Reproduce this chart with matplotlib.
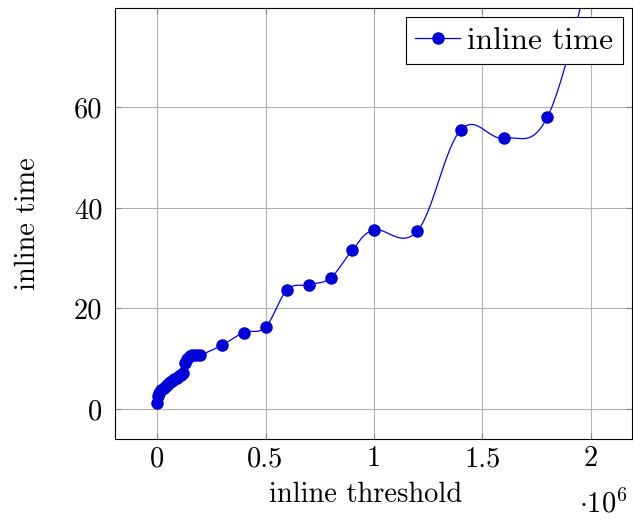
import numpy as np
import matplotlib
matplotlib.use('Agg')
import matplotlib.pyplot as plt

plt.rcParams['font.family'] = 'cmr10'
plt.rcParams['mathtext.fontset'] = 'cm'
plt.rcParams['axes.unicode_minus'] = False

# inline threshold / inline time
threshold = [0, 5000, 10000, 20000, 30000, 40000, 50000, 60000, 70000, 80000,
             90000, 100000, 110000, 120000, 130000, 140000, 150000, 160000,
             180000, 200000, 300000, 400000, 500000, 600000, 700000, 800000,
             900000, 1000000, 1200000, 1400000, 1600000, 1800000, 2000000]
inline_time = [1.2, 2.5, 3.2, 3.8, 4.2, 4.5, 4.9, 5.3, 5.6, 5.9,
               6.2, 6.5, 6.8, 7.1, 9.2, 10.0, 10.6, 10.8,
               10.7, 10.7, 12.7, 15.2, 16.3, 23.7, 24.7, 26.1,
               31.6, 35.6, 35.4, 55.5, 53.9, 58.1, 88.0]
xticks = [0, 0.5e6, 1e6, 1.5e6, 2e6]
xtick_labels = ['0', '0.5', '1', '1.5', '2']
yticks = [0, 20, 40, 60]


def smooth(xs, ys, sx, sy, n=30):
    # catmull-rom style curve through the points (like pgfplots "smooth")
    p = np.column_stack([np.asarray(xs) / sx, np.asarray(ys) / sy])
    out = [p[0]]
    for i in range(len(p) - 1):
        p0 = p[i - 1] if i > 0 else p[i]
        p3 = p[i + 2] if i + 2 < len(p) else p[i + 1]
        p1, p2 = p[i], p[i + 1]
        c1 = p1 + (p2 - p0) * 0.55 / 3
        c2 = p2 - (p3 - p1) * 0.55 / 3
        t = np.linspace(0, 1, n)[1:, None]
        seg = (1 - t) ** 3 * p1 + 3 * (1 - t) ** 2 * t * c1 + 3 * (1 - t) * t ** 2 * c2 + t ** 3 * p2
        out.extend(seg)
    out = np.array(out)
    return out[:, 0] * sx, out[:, 1] * sy


fs = 20.5
fig = plt.figure(figsize=(6.33, 5.23), dpi=100)
ax = fig.add_axes([0.1817, 0.1606, 0.8167, 0.8241])

xlim = (-0.194e6, 2.19e6)
ylim = (-6, 79.8)
sx = (xlim[1] - xlim[0]) / 517.0
sy = (ylim[1] - ylim[0]) / 431.0
cx, cy = smooth(threshold, inline_time, sx, sy)
ax.plot(cx, cy, color='blue', lw=0.9, zorder=3)
ax.plot(threshold, inline_time, ls='none', marker='o', ms=8,
        color=(0, 0, 0.85), zorder=4)
ax.plot([], [], color='blue', lw=0.9, marker='o', ms=8,
        mfc=(0, 0, 0.85), mec=(0, 0, 0.85), label='inline time')

ax.set_xlim(*xlim)
ax.set_ylim(*ylim)
ax.set_xticks(xticks)
ax.set_xticklabels(xtick_labels)
ax.set_yticks(yticks)
ax.grid(True, color='#b3b3b3', lw=0.8)
ax.set_axisbelow(True)
ax.tick_params(direction='in', length=4, color='#888888', labelsize=fs,
               top=True, right=True, pad=9)
ax.tick_params(axis='x', pad=5)
for s in ax.spines.values():
    s.set_linewidth(0.8)

ax.set_xlabel('inline threshold', fontsize=fs, labelpad=7)
ax.xaxis.set_label_coords(0.485, -0.1)
ax.set_ylabel('inline time', fontsize=fs, labelpad=24)
fig.text(0.953, 0.037, r'$\cdot 10^6$', fontsize=fs, ha='center', va='center')

leg = ax.legend(loc='upper right', fontsize=22.5, fancybox=False, framealpha=1,
                edgecolor='black', handlelength=1.45, handletextpad=0.22,
                borderaxespad=0.3, borderpad=0.3)
leg.get_frame().set_linewidth(0.8)

fig.savefig('out.png', dpi=100)
